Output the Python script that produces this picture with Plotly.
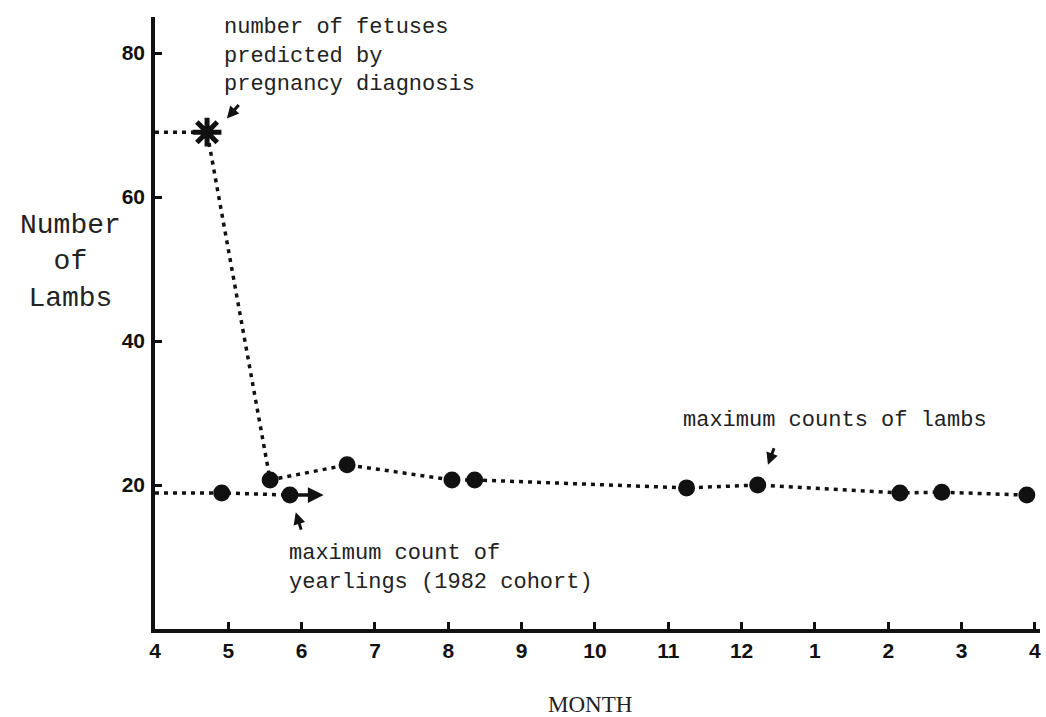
import plotly.graph_objects as go

# x = months elapsed since the start of April (April of year 1 = 0)
tick_vals = list(range(13))
tick_text = ["4", "5", "6", "7", "8", "9", "10", "11", "12", "1", "2", "3", "4"]
y_ticks = [20, 40, 60, 80]

# predicted fetuses (asterisk)
fetus_x = [0.71]
fetus_y = [69]

# maximum counts of lambs
lamb_x = [1.57, 2.62, 4.05, 4.36, 7.25, 8.22, 10.16, 10.73, 11.89]
lamb_y = [20.7, 22.8, 20.7, 20.7, 19.6, 20.0, 18.9, 19.0, 18.6]

# maximum count of yearlings (1982 cohort)
year_x = [0.91, 1.84]
year_y = [18.9, 18.6]
year_arrow_end = 2.3

BLACK = "#111111"
DOT = "4px,5px"
LW = 3.5

fig = go.Figure()

# dotted lead-in lines from the y axis
fig.add_trace(go.Scatter(x=[0] + fetus_x + lamb_x, y=[fetus_y[0]] + fetus_y + lamb_y,
                         mode="lines", line=dict(color=BLACK, width=LW, dash=DOT),
                         hoverinfo="skip", showlegend=False))
fig.add_trace(go.Scatter(x=[0] + year_x, y=[year_y[0]] + year_y,
                         mode="lines", line=dict(color=BLACK, width=LW, dash=DOT),
                         hoverinfo="skip", showlegend=False))

fig.add_trace(go.Scatter(x=lamb_x, y=lamb_y, mode="markers",
                         marker=dict(symbol="circle", size=17, color=BLACK),
                         showlegend=False))
fig.add_trace(go.Scatter(x=year_x, y=year_y, mode="markers",
                         marker=dict(symbol="circle", size=17, color=BLACK),
                         showlegend=False))
fig.add_trace(go.Scatter(x=fetus_x, y=fetus_y, mode="markers",
                         marker=dict(symbol="asterisk-open", size=24, color=BLACK,
                                     line=dict(color=BLACK, width=5)),
                         showlegend=False))

TXT = "#222222"
mono = dict(family="Liberation Mono, Courier New, monospace", size=22, color=TXT)

def label(x, y, text, anchor="left", font=mono):
    fig.add_annotation(x=x, y=y, xref="x", yref="y", text=text, showarrow=False,
                       xanchor=anchor, yanchor="middle", font=font, align="left")

label(0.914, 79.6, "number of fetuses<br>predicted by<br>pregnancy diagnosis")
label(7.17, 28.9, "maximum counts of lambs")
label(1.80, 8.5, "maximum count of<br>yearlings (1982 cohort)")

# labels outside the plotting area, placed in paper coordinates
fig.add_annotation(x=-0.096, y=0.60, xref="paper", yref="paper",
                   text="Number<br>of<br>Lambs", showarrow=False, align="center",
                   xanchor="center", yanchor="middle",
                   font=dict(family="Liberation Mono, Courier New, monospace", size=28, color=TXT))
fig.add_annotation(x=0.491, y=-0.124, xref="paper", yref="paper", text="MONTH",
                   showarrow=False, xanchor="center", yanchor="middle",
                   font=dict(family="Liberation Serif, Times New Roman, serif", size=23, color=TXT))

# pointer arrows
def pointer(x, y, ax, ay):
    fig.add_annotation(x=x, y=y, ax=ax, ay=ay, xref="x", yref="y", axref="x", ayref="y",
                       text="", showarrow=True, arrowhead=2, arrowsize=0.8,
                       arrowwidth=3, arrowcolor=BLACK)

pointer(0.98, 70.9, 1.16, 73.0)
pointer(1.92, 16.2, 2.0, 13.6)
pointer(8.36, 22.8, 8.45, 25.3)
fig.add_annotation(x=year_arrow_end, y=year_y[1], ax=year_x[1], ay=year_y[1],
                   xref="x", yref="y", axref="x", ayref="y", text="", showarrow=True,
                   arrowhead=2, arrowsize=0.9, arrowwidth=3.5, arrowcolor=BLACK)

tickfont = dict(family="Liberation Sans, Arial, sans-serif", size=21, color="#111111", weight="bold")

fig.update_xaxes(range=[0, 12.07], tickvals=tick_vals, ticktext=tick_text,
                 showline=True, linecolor=BLACK, linewidth=3.5, ticks="inside",
                 ticklen=7, tickwidth=3, tickcolor=BLACK, showgrid=False, zeroline=False,
                 tickfont=tickfont, ticklabelstandoff=0)
fig.update_yaxes(range=[0, 85], tickvals=y_ticks, showline=True, linecolor=BLACK,
                 linewidth=3.5, ticks="inside", ticklen=7, tickwidth=3, tickcolor=BLACK,
                 showgrid=False, zeroline=False, tickfont=tickfont, ticklabelstandoff=2)

fig.update_layout(width=1046, height=717, margin=dict(l=155, r=6, t=17, b=88),
                  plot_bgcolor="white", paper_bgcolor="white", showlegend=False)

fig.write_html("out.html")
